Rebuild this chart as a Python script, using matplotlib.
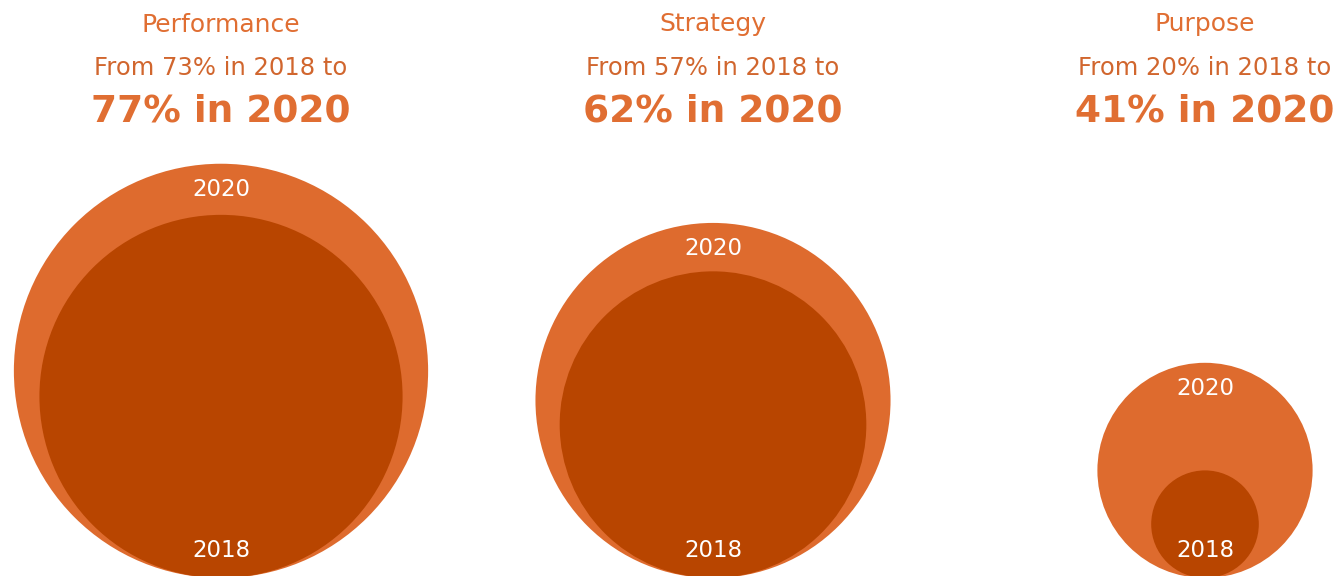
import matplotlib
matplotlib.use("Agg")
import matplotlib.pyplot as plt
from matplotlib.patches import Circle

# data
categories = ["Performance", "Strategy", "Purpose"]
share_2018 = [73, 57, 20]
share_2020 = [77, 62, 41]
years = ["2018", "2020"]
# bubble sizes as drawn in the source (in % units, not quite the stated shares)
bubble_2018 = [67.5, 57, 20]
bubble_2020 = [77, 66, 40]

OUTER = "#DE6B2E"
INNER = "#B84500"
TITLE = "#E06E32"
SUB = "#D1662E"

W, H = 1337, 576
fig = plt.figure(figsize=(W / 100, H / 100), dpi=100)
ax = fig.add_axes([0, 0, 1, 1])
ax.set_xlim(0, W)
ax.set_ylim(H, 0)
ax.axis("off")

px_per_pt = 2.69      # radius scale, pixels per percentage point
base_y = 578          # circles sit on a common baseline
col_x = [221, 713, 1205]
font = "DejaVu Sans"

for i, cx in enumerate(col_x):
    r20 = bubble_2020[i] * px_per_pt
    r18 = bubble_2018[i] * px_per_pt
    ax.add_patch(Circle((cx, base_y - r20), r20, color=OUTER, lw=0))
    ax.add_patch(Circle((cx, base_y - r18), r18, color=INNER, lw=0))
    ax.text(cx, base_y - 2 * r20 + 32, years[1], color="white", fontsize=16.5,
            ha="center", va="baseline", family=font)
    ax.text(cx, base_y - 21, years[0], color="white", fontsize=16.5,
            ha="center", va="baseline", family=font)

    ax.text(cx, 31.5, categories[i], color=TITLE, fontsize=18, ha="center",
            va="baseline", family=font)
    ax.text(cx, 75, f"From {share_2018[i]}% in {years[0]} to", color=SUB,
            fontsize=17.5, ha="center", va="baseline", family=font)
    ax.text(cx, 122, f"{share_2020[i]}% in {years[1]}", color=TITLE,
            fontsize=27, ha="center", va="baseline", family=font,
            fontweight="bold")

fig.savefig("out.png", dpi=100)
